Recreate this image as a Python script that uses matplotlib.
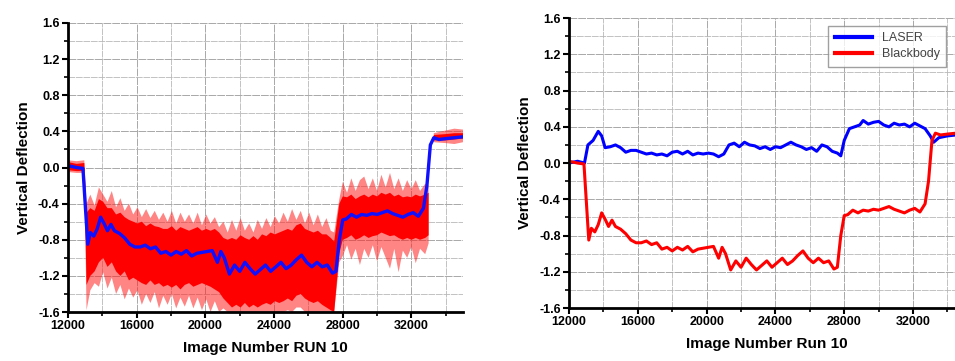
import numpy as np
import matplotlib
matplotlib.use("Agg")
import matplotlib.pyplot as plt
from matplotlib.ticker import MultipleLocator

plt.rcParams['font.family'] = ['Liberation Sans', 'DejaVu Sans']

# Blackbody (smoothed) curve, also the blue line of the left panel
bb_x = [12000, 12500, 12870, 13150, 13300, 13500, 13700, 13900, 14100, 14300, 14500, 14700,
        15000, 15300, 15600, 15900, 16200, 16500, 16800, 17100, 17400, 17700, 18000, 18300,
        18600, 18900, 19200, 19500, 19800, 20100, 20400, 20700, 20900, 21100, 21400, 21700,
        22000, 22300, 22600, 22900, 23200, 23500, 23800, 24100, 24400, 24700, 25000, 25300,
        25600, 25900, 26200, 26500, 26800, 27100, 27400, 27600, 27800, 28000, 28200, 28500,
        28800, 29100, 29400, 29700, 30000, 30300, 30600, 30900, 31200, 31500, 31800, 32100,
        32400, 32700, 32900, 33100, 33300, 33600, 34000, 34500, 35000]
bb_y = [0.02, 0.00, -0.01, -0.85, -0.72, -0.76, -0.68, -0.55, -0.62, -0.70, -0.63, -0.70,
        -0.73, -0.78, -0.85, -0.88, -0.88, -0.86, -0.90, -0.88, -0.95, -0.93, -0.97, -0.93,
        -0.96, -0.92, -0.98, -0.95, -0.94, -0.93, -0.92, -1.05, -0.93, -1.00, -1.18, -1.08,
        -1.15, -1.05, -1.12, -1.18, -1.13, -1.08, -1.15, -1.10, -1.05, -1.12, -1.08, -1.02,
        -0.97, -1.05, -1.10, -1.05, -1.10, -1.08, -1.17, -1.15, -0.80, -0.58, -0.57, -0.52,
        -0.55, -0.52, -0.53, -0.51, -0.52, -0.50, -0.48, -0.51, -0.53, -0.55, -0.52, -0.50,
        -0.54, -0.45, -0.20, 0.25, 0.33, 0.31, 0.32, 0.33, 0.34]

# LASER curve
laser_x = [12000, 12500, 12900, 13100, 13400, 13700, 13900, 14100, 14400, 14700, 15000, 15300,
           15600, 15900, 16200, 16500, 16800, 17100, 17400, 17700, 18000, 18300, 18600, 18900,
           19200, 19500, 19800, 20100, 20400, 20700, 21000, 21300, 21600, 21900, 22200, 22500,
           22800, 23100, 23400, 23700, 24000, 24300, 24600, 24900, 25200, 25500, 25800, 26100,
           26400, 26700, 27000, 27300, 27600, 27800, 28000, 28300, 28600, 28900, 29100, 29400,
           29700, 30000, 30300, 30600, 30900, 31200, 31500, 31800, 32100, 32400, 32700, 33000,
           33200, 33500, 34000, 35000]
laser_y = [0.00, 0.02, 0.00, 0.20, 0.25, 0.35, 0.30, 0.17, 0.18, 0.20, 0.17, 0.12,
           0.14, 0.14, 0.12, 0.10, 0.11, 0.09, 0.10, 0.08, 0.12, 0.13, 0.10, 0.13,
           0.09, 0.11, 0.10, 0.11, 0.10, 0.07, 0.10, 0.20, 0.22, 0.18, 0.23, 0.20,
           0.19, 0.16, 0.18, 0.15, 0.18, 0.17, 0.20, 0.23, 0.20, 0.18, 0.15, 0.17,
           0.13, 0.20, 0.18, 0.13, 0.11, 0.08, 0.25, 0.38, 0.40, 0.42, 0.47, 0.43,
           0.45, 0.46, 0.42, 0.40, 0.44, 0.42, 0.43, 0.40, 0.44, 0.41, 0.38, 0.30,
           0.23, 0.28, 0.30, 0.32]

# raw (noisy) blackbody data in the left panel: envelopes
raw_x = [12000, 12500, 12950, 13080, 13300, 13550, 13800, 14050, 14300, 14550, 14800, 15050,
         15300, 15550, 15800, 16050, 16300, 16550, 16800, 17050, 17300, 17550, 17800, 18050,
         18300, 18550, 18800, 19050, 19300, 19550, 19800, 20050, 20300, 20550, 20800, 21050,
         21300, 21550, 21800, 22050, 22300, 22550, 22800, 23050, 23300, 23550, 23800, 24050,
         24300, 24550, 24800, 25050, 25300, 25550, 25800, 26050, 26300, 26550, 26800, 27050,
         27300, 27500, 27800, 28000, 28250, 28500, 28750, 29000, 29250, 29500, 29750, 30000,
         30250, 30500, 30750, 31000, 31250, 31500, 31750, 32000, 32250, 32500, 32800, 33000,
         33150, 33300, 34000, 34500, 35000]
raw_spike_hi = [0.08, 0.07, 0.08, -0.40, -0.30, -0.42, -0.22, -0.30, -0.38, -0.26, -0.44, -0.34,
                -0.48, -0.40, -0.52, -0.44, -0.55, -0.46, -0.56, -0.48, -0.58, -0.50, -0.60, -0.48,
                -0.62, -0.50, -0.60, -0.52, -0.62, -0.50, -0.64, -0.52, -0.62, -0.55, -0.66, -0.60,
                -0.72, -0.58, -0.70, -0.56, -0.70, -0.62, -0.72, -0.58, -0.68, -0.56, -0.66, -0.54,
                -0.62, -0.50, -0.60, -0.46, -0.58, -0.48, -0.62, -0.50, -0.64, -0.52, -0.66, -0.56,
                -0.70, -0.72, -0.35, -0.16, -0.28, -0.12, -0.26, -0.14, -0.10, -0.24, -0.12, -0.26,
                -0.08, -0.22, -0.06, -0.24, -0.12, -0.26, -0.14, -0.24, -0.14, -0.26, -0.18, -0.20,
                np.nan, 0.38, 0.41, 0.43, 0.42]
raw_hi = [0.06, 0.04, 0.05, -0.50, -0.45, -0.48, -0.35, -0.38, -0.45, -0.45, -0.52, -0.50,
          -0.55, -0.58, -0.60, -0.62, -0.60, -0.65, -0.62, -0.65, -0.66, -0.68, -0.68, -0.65,
          -0.70, -0.66, -0.68, -0.70, -0.68, -0.66, -0.70, -0.68, -0.70, -0.68, -0.72, -0.78,
          -0.80, -0.78, -0.80, -0.75, -0.78, -0.80, -0.76, -0.80, -0.74, -0.76, -0.72, -0.74,
          -0.72, -0.70, -0.68, -0.70, -0.64, -0.62, -0.68, -0.70, -0.72, -0.70, -0.74, -0.74,
          -0.78, -0.82, -0.40, -0.32, -0.33, -0.30, -0.35, -0.32, -0.30, -0.33, -0.30, -0.32,
          -0.28, -0.30, -0.28, -0.32, -0.30, -0.33, -0.32, -0.33, -0.30, -0.32, -0.30, -0.28,
          np.nan, 0.36, 0.37, 0.38, 0.38]
raw_lo = [-0.03, -0.04, -0.04, -1.30, -1.20, -1.15, -1.05, -1.00, -1.10, -1.05, -1.15, -1.20,
          -1.15, -1.25, -1.22, -1.25, -1.28, -1.30, -1.25, -1.30, -1.28, -1.32, -1.30, -1.33,
          -1.30, -1.35, -1.30, -1.28, -1.32, -1.30, -1.28, -1.30, -1.32, -1.35, -1.38, -1.45,
          -1.50, -1.55, -1.52, -1.55, -1.50, -1.55, -1.52, -1.55, -1.52, -1.50, -1.52, -1.48,
          -1.50, -1.48, -1.45, -1.48, -1.42, -1.40, -1.45, -1.48, -1.50, -1.48, -1.52, -1.55,
          -1.58, -1.60, -0.95, -0.80, -0.78, -0.75, -0.80, -0.78, -0.75, -0.78, -0.76, -0.75,
          -0.72, -0.74, -0.76, -0.75, -0.78, -0.80, -0.78, -0.80, -0.78, -0.80, -0.78, -0.75,
          np.nan, 0.30, 0.30, 0.31, 0.32]
raw_spike_lo = [-0.05, -0.06, -0.06, -1.58, -1.36, -1.28, -1.32, -1.16, -1.34, -1.22, -1.40, -1.30,
                -1.46, -1.34, -1.44, -1.36, -1.52, -1.40, -1.50, -1.38, -1.56, -1.42, -1.52, -1.40,
                -1.56, -1.44, -1.54, -1.42, -1.56, -1.44, -1.58, -1.46, -1.60, -1.48, -1.60, -1.56,
                -1.60, -1.60, -1.60, -1.60, -1.60, -1.60, -1.60, -1.60, -1.60, -1.60, -1.60, -1.60,
                -1.60, -1.60, -1.58, -1.60, -1.55, -1.55, -1.60, -1.60, -1.60, -1.60, -1.60, -1.60,
                -1.60, -1.60, -1.05, -0.98, -0.86, -1.02, -0.90, -1.08, -0.90, -1.00, -0.86, -1.04,
                -0.88, -1.00, -1.12, -0.90, -1.16, -0.92, -1.00, -0.88, -1.06, -0.90, -0.96, -0.84,
                np.nan, 0.28, 0.27, 0.26, 0.28]

yticks = [-1.6, -1.2, -0.8, -0.4, 0.0, 0.4, 0.8, 1.2, 1.6]
xticks = [12000, 16000, 20000, 24000, 28000, 32000]

fig = plt.figure(figsize=(9.55, 3.61), dpi=100)
ax1 = fig.add_axes([0.0712, 0.1357, 0.4136, 0.8006])
ax2 = fig.add_axes([0.5958, 0.1468, 0.4143, 0.8030])


def style_axes(ax, xlabel):
    ax.set_xlim(12000, 35000)
    ax.set_ylim(-1.6, 1.6)
    ax.set_xticks(xticks)
    ax.set_yticks(yticks)
    ax.set_yticklabels([f"{v:.1f}" for v in yticks])
    ax.xaxis.set_minor_locator(MultipleLocator(2000))
    ax.yaxis.set_minor_locator(MultipleLocator(0.2))
    ax.grid(True, which='major', color='#a8a8a8', linewidth=0.7, linestyle=(0, (8, 1)))
    ax.grid(True, which='minor', color='#b8b8b8', linewidth=0.6, linestyle=(0, (8, 1)))
    ax.set_axisbelow(True)
    for s in ['top', 'right']:
        ax.spines[s].set_visible(False)
    for s in ['left', 'bottom']:
        ax.spines[s].set_linewidth(2.0)
    ax.tick_params(which='major', direction='out', length=4, width=1.5, labelsize=9, pad=2)
    ax.tick_params(which='minor', direction='out', length=3, width=1.2)
    for lab in ax.get_xticklabels() + ax.get_yticklabels():
        lab.set_fontweight('bold')
    ax.set_xlabel(xlabel, fontsize=11, fontweight='bold', labelpad=6)
    ax.set_ylabel("Vertical Deflection", fontsize=11, fontweight='bold', labelpad=5)


# left panel
ax1.fill_between(raw_x, raw_spike_lo, raw_spike_hi, color='#ff2020', alpha=0.55, linewidth=0)
ax1.fill_between(raw_x, raw_lo, raw_hi, color='#ff0000', linewidth=0)
ax1.plot(bb_x, bb_y, color='#1010ff', linewidth=2.4)
style_axes(ax1, "Image Number RUN 10")

# right panel
ax2.plot(laser_x, laser_y, color='#0000ff', linewidth=2.2, label='LASER')
ax2.plot(bb_x, bb_y, color='#ff0000', linewidth=2.2, label='Blackbody')
style_axes(ax2, "Image Number Run 10")
leg = ax2.legend(loc='upper left', bbox_to_anchor=(0.64, 0.995), fontsize=9, frameon=True,
                 fancybox=False, edgecolor='#888888', handlelength=3.0, borderpad=0.5,
                 labelspacing=0.35, handletextpad=0.8)
for t in leg.get_texts():
    t.set_color('#444444')
for h in leg.get_lines():
    h.set_linewidth(3.0)

fig.savefig("out.png", dpi=100)
